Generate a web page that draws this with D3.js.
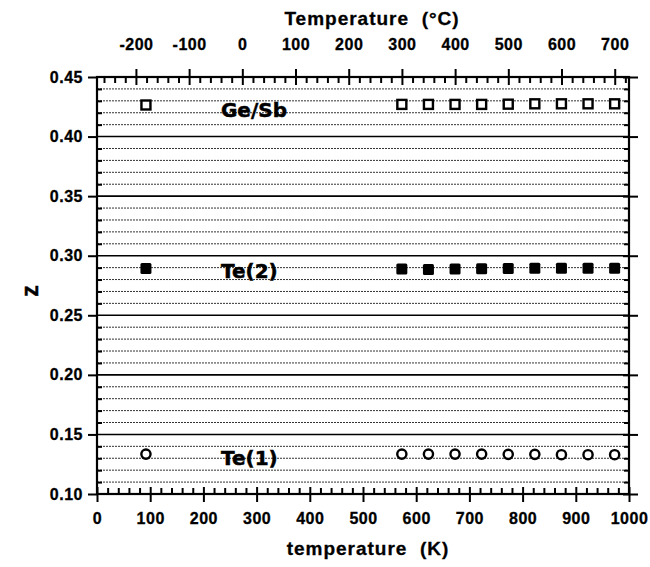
<!DOCTYPE html>
<html lang="en">
<head>
<meta charset="UTF-8">
<title>z vs temperature</title>
<script src="https://cdnjs.cloudflare.com/ajax/libs/d3/7.8.5/d3.min.js"></script>
<style>
    body { margin: 0; background: #fff; }
    svg { display: block; font-family: "Liberation Sans", Arial, sans-serif; font-weight: bold; }
    .tick text { font-size: 16px; letter-spacing: 0.5px; fill: #000; stroke: #000; stroke-width: 0.3px; }
    .domain { display: none; }
    .tick line { stroke: #000; stroke-width: 2; }
    .title { white-space: pre; font-size: 19px; letter-spacing: 1px; stroke: #000; stroke-width: 0.3px; }
</style>
</head>
<body>
<div id="chart"></div>
<script>
// data
var tempK = [92, 573, 623, 673, 723, 773, 823, 873, 923, 973];
var zGeSb = [0.4265, 0.427, 0.427, 0.427, 0.427, 0.4272, 0.4275, 0.4275, 0.4275, 0.4275];
var zTe2  = [0.2893, 0.2888, 0.2885, 0.2888, 0.289, 0.2893, 0.2895, 0.2895, 0.2895, 0.2895];
var zTe1  = [0.1335, 0.1335, 0.1335, 0.1335, 0.1335, 0.1333, 0.1333, 0.133, 0.133, 0.133];
var seriesNames = ['Ge/Sb', 'Te(2)', 'Te(1)'];
var kTicks = d3.range(0, 1001, 100);
var cTicks = d3.range(-200, 701, 100);
var zTicks = [0.10, 0.15, 0.20, 0.25, 0.30, 0.35, 0.40, 0.45];

var w = 650, h = 567,
    m = {top: 77, right: 21, bottom: 73, left: 97},
    iw = w - m.left - m.right,
    ih = h - m.top - m.bottom;

var svg = d3.select('#chart').append('svg')
    .attr('width', w)
    .attr('height', h);

var x = d3.scaleLinear().domain([0, 1000]).range([m.left, m.left + iw]);
var xc = d3.scaleLinear().domain([-273.15, 726.85]).range([m.left, m.left + iw]);
var y = d3.scaleLinear().domain([0.10, 0.45]).range([m.top + ih, m.top]);

var isMajor = function (d) { return Math.round(d * 100) % 5 === 0; };

// grid lines, dotted every 0.01, solid every 0.05
var gridVals = d3.range(11, 45).map(function (v) { return v / 100; });
svg.append('g').selectAll('line')
    .data(gridVals)
    .enter().append('line')
    .attr('x1', x(0)).attr('x2', x(1000))
    .attr('y1', function (d) { return y(d); })
    .attr('y2', function (d) { return y(d); })
    .attr('stroke', function (d) { return isMajor(d) ? '#000' : '#333'; })
    .attr('stroke-width', function (d) { return isMajor(d) ? 1.6 : 1; })
    .attr('stroke-dasharray', function (d) { return isMajor(d) ? null : '2,1'; });

var minorK = d3.range(0, 1001, 20).filter(function (v) { return v % 100 !== 0; });
var minorC = d3.range(-260, 721, 20).filter(function (v) { return v % 100 !== 0; });
var minorZ = gridVals.filter(function (v) { return !isMajor(v); });
var plain = function (d) { return String(d); };

// bottom axis (K)
svg.append('g').attr('transform', 'translate(0,' + y(0.10) + ')')
    .call(d3.axisBottom(x).tickValues(kTicks).tickSize(8).tickPadding(11).tickFormat(plain));
svg.append('g').attr('transform', 'translate(0,' + y(0.10) + ')')
    .call(d3.axisBottom(x).tickValues(kTicks).tickSize(-7).tickFormat(''));
svg.append('g').attr('transform', 'translate(0,' + y(0.10) + ')')
    .call(d3.axisBottom(x).tickValues(minorK).tickSize(-6).tickFormat(''));

// top axis (deg C)
svg.append('g').attr('transform', 'translate(0,' + y(0.45) + ')')
    .call(d3.axisTop(xc).tickValues(cTicks).tickSize(8).tickPadding(19).tickFormat(plain));
svg.append('g').attr('transform', 'translate(0,' + y(0.45) + ')')
    .call(d3.axisTop(xc).tickValues(cTicks).tickSize(-8).tickFormat(''));
svg.append('g').attr('transform', 'translate(0,' + y(0.45) + ')')
    .call(d3.axisTop(xc).tickValues(minorC).tickSize(-6).tickFormat(''));

// left axis
svg.append('g').attr('transform', 'translate(' + x(0) + ',0)')
    .call(d3.axisLeft(y).tickValues(zTicks).tickSize(9).tickPadding(5).tickFormat(d3.format('.2f')));
svg.append('g').attr('transform', 'translate(' + x(0) + ',0)')
    .call(d3.axisLeft(y).tickValues(minorZ).tickSize(-5).tickFormat(''));

// right axis
svg.append('g').attr('transform', 'translate(' + x(1000) + ',0)')
    .call(d3.axisRight(y).tickValues(zTicks).tickSize(9).tickFormat(''));
svg.append('g').attr('transform', 'translate(' + x(1000) + ',0)')
    .call(d3.axisRight(y).tickValues(zTicks).tickSize(-6).tickFormat(''));
svg.append('g').attr('transform', 'translate(' + x(1000) + ',0)')
    .call(d3.axisRight(y).tickValues(minorZ).tickSize(-5).tickFormat(''));

// frame
svg.append('rect')
    .attr('x', x(0)).attr('y', y(0.45))
    .attr('width', x(1000) - x(0)).attr('height', y(0.10) - y(0.45))
    .attr('fill', 'none').attr('stroke', '#000').attr('stroke-width', 2.2);

// markers
var pts = function (arr) { return tempK.map(function (t, i) { return {t: t, z: arr[i]}; }); };
var sq = 9;
svg.append('g').selectAll('rect')
    .data(pts(zGeSb)).enter().append('rect')
    .attr('x', function (d) { return x(d.t) - sq / 2; })
    .attr('y', function (d) { return y(d.z) - sq / 2; })
    .attr('width', sq).attr('height', sq)
    .attr('fill', '#fff').attr('stroke', '#000').attr('stroke-width', 2.4);
svg.append('g').selectAll('rect')
    .data(pts(zTe2)).enter().append('rect')
    .attr('x', function (d) { return x(d.t) - 5.5; })
    .attr('y', function (d) { return y(d.z) - 5.5; })
    .attr('width', 11).attr('height', 11).attr('rx', 1.5)
    .attr('fill', '#000');
svg.append('g').selectAll('circle')
    .data(pts(zTe1)).enter().append('circle')
    .attr('cx', function (d) { return x(d.t); })
    .attr('cy', function (d) { return y(d.z); })
    .attr('r', 4.6)
    .attr('fill', '#fff').attr('stroke', '#000').attr('stroke-width', 2.4);

// series labels
var labelZ = [0.4164, 0.2811, 0.1243];
svg.append('g').selectAll('text')
    .data(seriesNames).enter().append('text')
    .attr('x', x(233))
    .attr('y', function (d, i) { return y(labelZ[i]); })
    .style('font-family', '"DejaVu Sans", sans-serif')
    .style('font-size', '20px')
    .style('font-weight', 'bold')
    .attr('stroke', '#000').attr('stroke-width', 0.5)
    .text(function (d) { return d; });

// axis titles
svg.append('text').attr('class', 'title')
    .attr('x', 372).attr('y', 25)
    .attr('text-anchor', 'middle')
    .text('Temperature  (\u00B0C)');
svg.append('text').attr('class', 'title')
    .attr('x', 368).attr('y', 555)
    .attr('text-anchor', 'middle')
    .text('temperature  (K)');
svg.append('text')
    .attr('transform', 'translate(38,291) rotate(-90)')
    .attr('text-anchor', 'middle')
    .style('font-size', '23px')
    .attr('stroke', '#000').attr('stroke-width', 0.5)
    .text('z');
</script>
</body>
</html>
